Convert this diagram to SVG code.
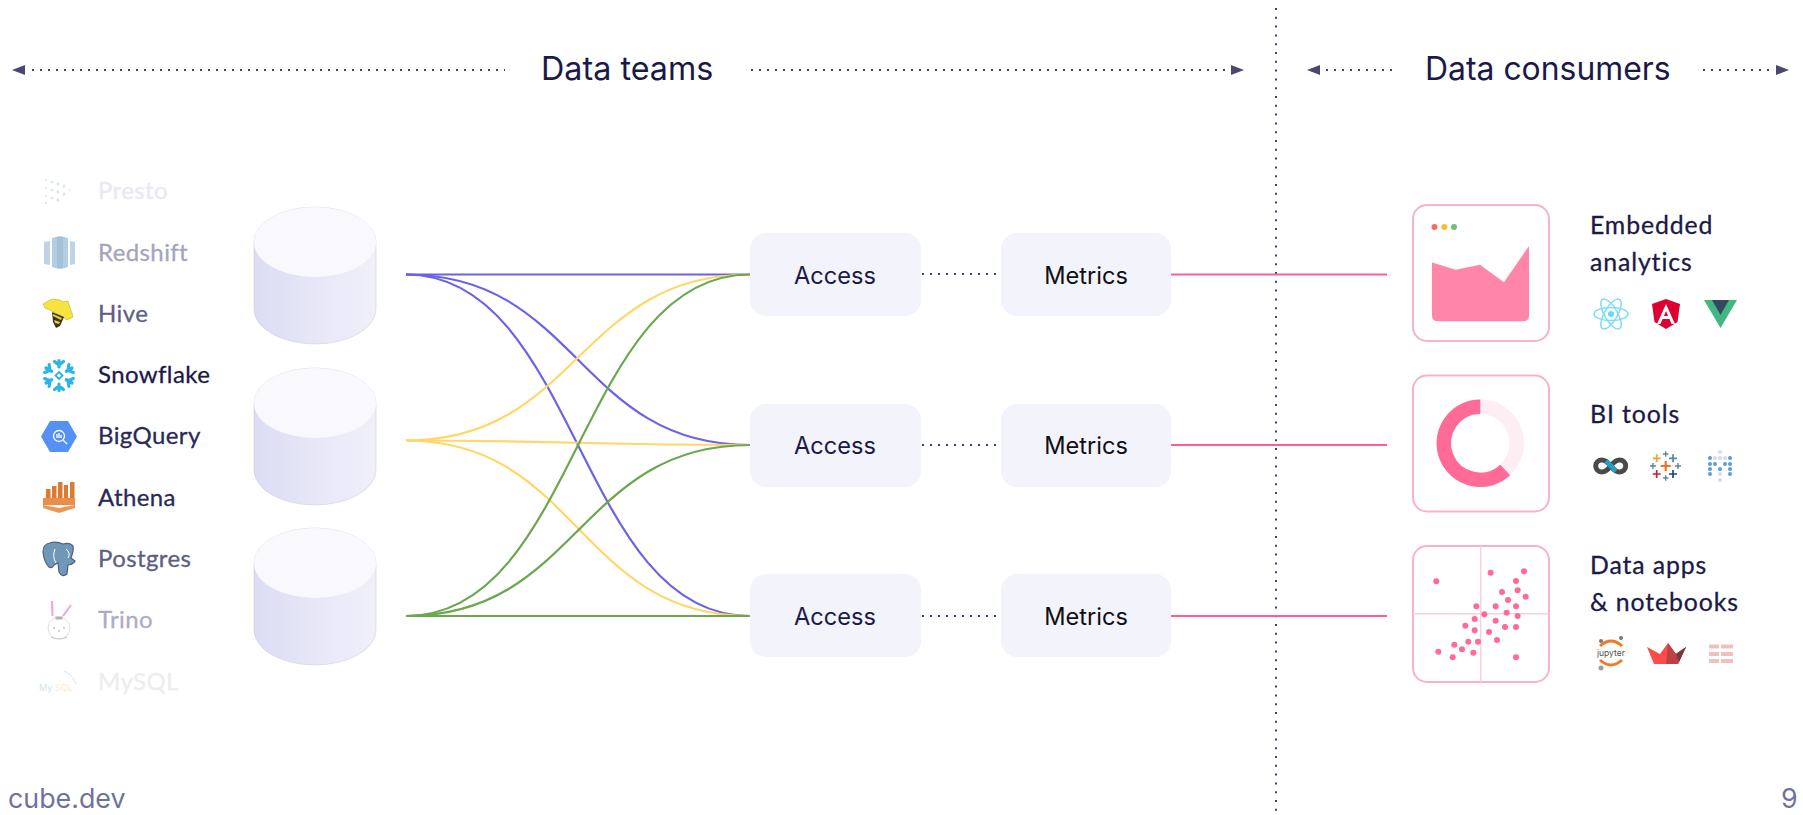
<svg xmlns="http://www.w3.org/2000/svg" width="1803" height="815" viewBox="0 0 1803 815">
<style>
text{font-family:"Inter","Liberation Sans",sans-serif}
.h{font-size:32.300px;fill:#1b1948}
.b{font-size:23.600px;fill:#1b1948;text-anchor:middle}
.m{fill:#0f0f14}
.l{font-family:"Lato","Open Sans",sans-serif;font-size:24px;letter-spacing:.4px;stroke-width:.3px}
.t{font-family:"Lato","Open Sans",sans-serif;font-size:24.800px;fill:#1b1948;stroke:#1b1948;stroke-width:.3px;letter-spacing:.9px}
.f{font-size:26.800px;fill:#7071a0}
.d{fill:none;stroke:#43416b;stroke-width:2;stroke-dasharray:2 6}
.v{stroke-dasharray:2 6.800}
.c{fill:none;stroke-width:2.200}
.bl{stroke:#6a63e8}.ye{stroke:#ffd668}.gr{stroke:#6aa74f}
.p{fill:none;stroke:#ff5f8f;stroke-width:2.200}
.box{fill:#f2f3fb}
.card{fill:#fff;stroke:#f7b3cb;stroke-width:2}
.top{fill:#f9f9fd}
.ar{fill:#4a4870}
.pk{fill:#ff6a97}
</style>
<defs>
<linearGradient id="cyl" x1="0" x2="1" y1="0" y2="0">
<stop offset="0" stop-color="#dcdcf4"/><stop offset=".5" stop-color="#e7e7f8"/><stop offset="1" stop-color="#f0f0fa"/>
</linearGradient>
<g id="cylinder">
<path d="M0 35A61 35 0 0 1 122 35V102A61 35 0 0 1 0 102Z" fill="url(#cyl)" stroke="#c9c9d4" stroke-width=".5"/>
<ellipse cx="61" cy="35" rx="61" ry="35" class="top"/>
</g>
<path id="sf" fill="none" stroke="#29b5e8" stroke-width="3.200" stroke-linecap="round" stroke-linejoin="round" d="M0-8.500V-15M-4.500-14L0-10.500L4.500-14"/>
</defs>

<g id="connectors">
<path class="d" d="M32 70H505M751 70H1232M1326 70H1395M1703 70H1772"/>
<path class="d v" d="M1276 8V815"/>
<path class="d" d="M922 274H998M922 445H998M922 616H998"/>
<path class="ar" d="M12 70L25 65V75ZM1244 70L1231 65V75ZM1307 70L1320 65V75ZM1789 70L1776 65V75Z"/>
<g>
<path class="c bl" d="M406 274.500H750"/>
<path class="c bl" d="M406 274.500C578 274.500 578 445 750 445"/>
<path class="c bl" d="M406 274.500C578 274.500 578 616 750 616"/>
<path class="c ye" d="M406 440.500C578 440.500 578 274.500 750 274.500"/>
<path class="c ye" d="M406 440.500C578 440.500 578 445 750 445"/>
<path class="c ye" d="M406 440.500C578 440.500 578 616 750 616"/>
<path class="c gr" d="M406 616C578 616 578 274.500 750 274.500"/>
<path class="c gr" d="M406 616C578 616 578 445 750 445"/>
<path class="c gr" d="M406 616H750"/>
</g>
<path class="p" d="M1171 274.500H1387M1171 445H1387M1171 616H1387"/>
</g>

<text class="h" x="541" y="80">Data teams</text>
<text class="h" x="1425" y="80" style="font-size:31.900px">Data consumers</text>

<g id="src-presto" opacity=".2">
<g fill="#4a7a9c"><circle cx="46" cy="180" r="1"/><circle cx="52" cy="182" r="1.200"/><circle cx="58" cy="184" r="1.400"/><circle cx="64" cy="186" r="1.500"/><circle cx="70" cy="190" r="1.500" opacity=".4"/><circle cx="46" cy="188" r="1"/><circle cx="52" cy="190" r="1.200"/><circle cx="58" cy="192" r="1.500"/><circle cx="64" cy="194" r="1.500"/><circle cx="46" cy="196" r="1"/><circle cx="52" cy="198" r="1.200"/><circle cx="58" cy="200" r="1.500"/><circle cx="46" cy="203" r="1"/></g>
</g>
<text class="l" x="98" y="199" fill="#e9e9f1" stroke="#e9e9f1">Presto</text>
<g id="src-redshift">
<path fill="#bdd4e8" d="M44 242l6-1v24l-6-1ZM70 241l5 1v22l-5 1Z"/><path fill="#b3cde4" d="M52 238q8-3 16 0v29q-8 3-16 0Z"/><path fill="#a5c0d9" d="M57 236.500h6v32h-6Z"/>
</g>
<text class="l" x="98" y="261" fill="#a5a4bd" stroke="#a5a4bd">Redshift</text>
<g id="src-hive">
<path fill="#f6e33f" stroke="#b59a20" stroke-width=".5" d="M43 304L52 299L60 300L63 302L68 301L70 308L72 313L73 317L67 320L60 315L55 313L50 310L45 308Z"/>
<path fill="#3d3416" d="M52 312L64 317L60 326L56 328L53 322Z"/><path fill="#e9cf3f" d="M53 314L62 318L61 320L53 316ZM54 320L60 322L59 324L55 323Z"/>
</g>
<text class="l" x="98" y="322" fill="#5f5d85" stroke="#5f5d85">Hive</text>
<g id="src-snowflake">
<use href="#sf" transform="translate(59 375.500)"/><use href="#sf" transform="translate(59 375.500) rotate(60)"/><use href="#sf" transform="translate(59 375.500) rotate(120)"/><use href="#sf" transform="translate(59 375.500) rotate(180)"/><use href="#sf" transform="translate(59 375.500) rotate(240)"/><use href="#sf" transform="translate(59 375.500) rotate(300)"/>
<path fill="none" stroke="#29b5e8" stroke-width="1.800" d="M59 372l3.500 3.500-3.500 3.500-3.500-3.500Z"/>
</g>
<text class="l" x="98" y="383" fill="#1b1948" stroke="#1b1948">Snowflake</text>
<g id="src-bigquery">
<path fill="#5591f5" d="M41 436.500l9-15.500h18l9 15.500-9 15.500H50Z"/>
<circle cx="59" cy="436" r="5.500" fill="none" stroke="#fff" stroke-width="1.300"/>
<path stroke="#fff" stroke-width="1.300" d="M63 440l4 4M57 434v4M59 433v5M61 435v3"/>
</g>
<text class="l" x="98" y="444" fill="#2b2958" stroke="#2b2958">BigQuery</text>
<g id="src-athena">
<path fill="#dd7a32" d="M46 489h4.500v10h-4.500ZM52 486h4.500v13h-4.500ZM58 482h4.500v17h-4.500ZM64 485h4v14h-4ZM70 482h4.500v17h-4.500Z"/>
<path fill="#e98e4a" d="M43 498h32v7H43Z"/><path fill="#ec9655" d="M43 505l16 3 16-3v3l-16 5-16-5Z"/>
</g>
<text class="l" x="98" y="506" fill="#2b2958" stroke="#2b2958">Athena</text>
<g id="src-postgres">
<path fill="#6f98b8" stroke="#50607e" stroke-width="1.200" d="M50 543Q43 544 43 552Q44 562 49 567Q52 569 54 565L58 563L59 572Q62 578 67 574L68 565Q74 564 75 561L71 558Q74 550 73 546Q70 542 63 544Q56 541 50 543Z"/>
<path fill="none" stroke="#fff" stroke-width="1" d="M55 549q-3 8 1 14M66 549q5 4 2 9"/>
</g>
<text class="l" x="98" y="567" fill="#5f5d85" stroke="#5f5d85">Postgres</text>
<g id="src-trino">
<path fill="none" stroke="#f3a3d6" stroke-width="2" d="M52.500 616L52 601M63 616L71 605"/>
<circle cx="59" cy="628" r="11" fill="#fff" stroke="#d8d8d8" stroke-width=".8"/>
<path fill="#b0b0b0" d="M55.500 616.500h7v3h-7Z"/>
<path fill="none" stroke="#c8c8c8" stroke-width="1.200" d="M51 637q8 4 16 0"/>
<circle cx="54" cy="628" r=".8" fill="#999"/><circle cx="64" cy="628" r=".8" fill="#999"/><circle cx="59" cy="631" r=".8" fill="#999"/>
</g>
<text class="l" x="98" y="628" fill="#adacc5" stroke="#adacc5">Trino</text>
<g id="src-mysql" opacity=".2">
<text x="39" y="691" font-size="9" fill="#00758f">My</text><text x="55" y="691" font-size="9" fill="#f29111">SQL</text>
<path fill="none" stroke="#00758f" stroke-width=".8" d="M64 671q8 3 12 13"/>
</g>
<text class="l" x="98" y="690" fill="#ecedf3" stroke="#ecedf3">MySQL</text>

<g id="db-1"><use href="#cylinder" x="254" y="207"/></g>
<g id="db-2"><use href="#cylinder" x="254" y="368"/></g>
<g id="db-3"><use href="#cylinder" x="254" y="528"/></g>

<g id="access-1"><rect class="box" x="750" y="233" width="171" height="83" rx="16"/><text class="b" x="835" y="284">Access</text></g>
<g id="metrics-1"><rect class="box" x="1001" y="233" width="170" height="83" rx="16"/><text class="b m" x="1086" y="284">Metrics</text></g>
<g id="access-2"><rect class="box" x="750" y="404" width="171" height="83" rx="16"/><text class="b" x="835" y="454">Access</text></g>
<g id="metrics-2"><rect class="box" x="1001" y="404" width="170" height="83" rx="16"/><text class="b m" x="1086" y="454">Metrics</text></g>
<g id="access-3"><rect class="box" x="750" y="574" width="171" height="83" rx="16"/><text class="b" x="835" y="625">Access</text></g>
<g id="metrics-3"><rect class="box" x="1001" y="574" width="170" height="83" rx="16"/><text class="b m" x="1086" y="625">Metrics</text></g>

<g id="card-embedded">
<rect class="card" x="1413" y="205" width="136" height="136" rx="14"/>
<circle cx="1434.500" cy="227" r="3" fill="#f76b6b"/><circle cx="1444.300" cy="227" r="3" fill="#fbbc2a"/><circle cx="1454" cy="227" r="3" fill="#6fbf7a"/>
<path fill="#ff85a9" d="M1432 262.500L1455.700 269.700L1480 264.700L1504 282.300L1529 246V315.500Q1529 321.300 1523 321.300H1438Q1432 321.300 1432 315.500Z"/>
</g>
<g id="label-embedded">
<text class="t" x="1590" y="234">Embedded</text><text class="t" x="1590" y="271">analytics</text>
<g fill="none" stroke="#7fdcf5" stroke-width="1.500">
<ellipse cx="1611" cy="314" rx="17" ry="6.500"/><ellipse cx="1611" cy="314" rx="17" ry="6.500" transform="rotate(60 1611 314)"/><ellipse cx="1611" cy="314" rx="17" ry="6.500" transform="rotate(120 1611 314)"/>
</g><circle cx="1611" cy="314" r="3" fill="#61dafb"/>
<path fill="#dd0031" d="M1666 299L1652 304L1654.500 322L1666 329L1677.500 322L1680 304Z"/>
<path fill="#fff" d="M1666 304L1657 324H1660.500L1662.500 319H1669.500L1671.500 324H1675ZM1664 316L1666 311L1668 316Z"/>
<path fill="#41b883" d="M1704 300H1737L1720.500 328Z"/>
<path fill="#35495e" d="M1712 300H1729L1720.500 315Z"/>
</g>

<g id="card-bi">
<rect class="card" x="1413" y="375.500" width="136" height="136" rx="14"/>
<circle cx="1480.300" cy="443.300" r="36.500" fill="none" stroke="#fdeef3" stroke-width="14.500"/>
<path fill="none" stroke="#ff6a97" stroke-width="14.500" d="M1480.300 406.800A36.500 36.500 0 1 0 1505.200 470"/>
</g>
<g id="label-bi">
<text class="t" x="1590" y="423">BI tools</text>
<path fill="none" stroke="#4a4a4a" stroke-width="5" d="M1610.700 466c-3-4-6-6-9-6a6 6 0 0 0 0 12c3 0 6-2 9-6s6-6 9-6a6 6 0 0 1 0 12c-3 0-6-2-9-6Z"/>
<path stroke="#2a9cc4" stroke-width="5" d="M1606 461l10 10"/>
<g stroke-width="1.700" fill="none">
<path stroke="#e8762c" stroke-width="2.200" d="M1660.700 466h10M1665.700 461v10"/>
<path stroke="#f0a040" d="M1652.700 458.300h8M1656.700 454.300v8"/>
<path stroke="#5b879b" d="M1669 458.300h8M1673 454.300v8"/>
<path stroke="#c72037" d="M1652.700 474h8M1656.700 470v8"/>
<path stroke="#1f447e" d="M1669 474h8M1673 470v8"/>
<path stroke="#59879b" stroke-width="1.400" d="M1663 454h5.400M1665.700 451.300v5.400M1663 478h5.400M1665.700 475.300v5.400M1650 466h6M1653 463v6M1675 466h6M1678 463v6"/>
</g>
<g fill="#5a9ade"><circle cx="1710" cy="458" r="2"/><circle cx="1730" cy="458" r="2"/><circle cx="1710" cy="464" r="2"/><circle cx="1715" cy="464" r="2"/><circle cx="1730" cy="464" r="2"/><circle cx="1725" cy="464" r="2"/><circle cx="1710" cy="469" r="2"/><circle cx="1720" cy="469" r="2"/><circle cx="1730" cy="469" r="2"/><circle cx="1710" cy="474" r="2"/><circle cx="1730" cy="474" r="2"/></g>
<g fill="#5a9ade" opacity=".3"><circle cx="1720" cy="474" r="2"/><circle cx="1720" cy="452" r="2"/><circle cx="1720" cy="480" r="2"/><circle cx="1715" cy="458" r="2"/><circle cx="1720" cy="458" r="2"/><circle cx="1725" cy="458" r="2"/></g>
</g>

<g id="card-data">
<rect class="card" x="1413" y="546" width="136" height="136" rx="14"/>
<path stroke="#fbd0de" stroke-width="1.500" d="M1480.700 546V682M1413 613.700H1549"/>
<g class="pk" transform="translate(1390 530) scale(.3333)">
<circle cx="302" cy="128" r="9"/><circle cx="402" cy="124" r="9"/><circle cx="139" cy="154" r="9"/><circle cx="378" cy="153" r="9"/><circle cx="336" cy="186" r="9"/><circle cx="383" cy="181" r="9"/><circle cx="354" cy="210" r="9"/><circle cx="407" cy="200" r="9"/><circle cx="259" cy="229" r="9"/><circle cx="317" cy="229" r="9"/><circle cx="378" cy="229" r="9"/><circle cx="350" cy="248" r="9"/><circle cx="283" cy="253" r="9"/><circle cx="383" cy="258" r="9"/><circle cx="254" cy="267" r="9"/><circle cx="317" cy="272" r="9"/><circle cx="226" cy="287" r="9"/><circle cx="345" cy="291" r="9"/><circle cx="378" cy="291" r="9"/><circle cx="254" cy="301" r="9"/><circle cx="297" cy="306" r="9"/><circle cx="321" cy="330" r="9"/><circle cx="235" cy="335" r="9"/><circle cx="264" cy="335" r="9"/><circle cx="193" cy="344" r="9"/><circle cx="216" cy="358" r="9"/><circle cx="145" cy="365" r="9"/><circle cx="250" cy="368" r="9"/><circle cx="188" cy="382" r="9"/><circle cx="378" cy="382" r="9"/>
</g>
</g>
<g id="label-data">
<text class="t" x="1590" y="574">Data apps</text><text class="t" x="1590" y="611">&amp; notebooks</text>
<path fill="none" stroke="#f37726" stroke-width="3" d="M1600 646q11-10 22 0M1600 660q11 10 22 0"/>
<text x="1597" y="656" font-size="8.500" fill="#4e4e4e">jupyter</text>
<circle cx="1601" cy="641" r="2" fill="#767677"/><circle cx="1621" cy="638" r="2" fill="#767677"/><circle cx="1601" cy="668" r="2.500" fill="#9e9e9e"/>
<path fill="#ff4b4b" d="M1647 647L1660 654L1668 643L1676 654L1686 647L1678 664H1654Z"/>
<path fill="#bd4043" d="M1668 643L1676 654L1686 647L1678 664H1666Z"/><path fill="#7d353b" d="M1676 654L1686 647L1679 662Z"/>
<path stroke="#eec0c0" stroke-width="4" stroke-dasharray="10 2 12 0" d="M1709 646.500H1733M1709 654H1733M1709 661H1733" fill="none"/>
</g>

<text class="f" x="8" y="808">cube.dev</text>
<text class="f" x="1781" y="808">9</text>
</svg>
